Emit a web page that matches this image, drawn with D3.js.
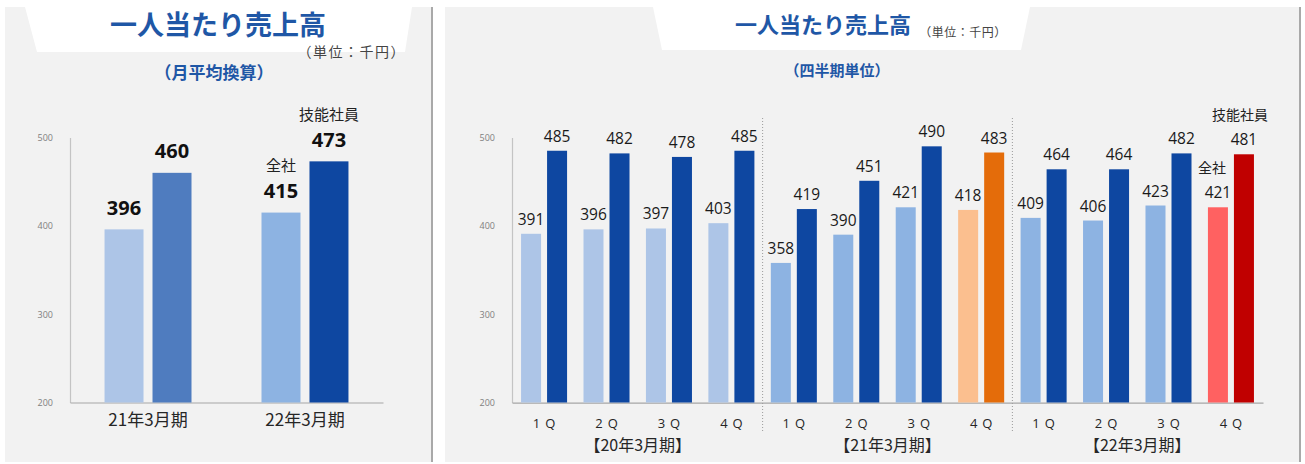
<!DOCTYPE html>
<html lang="ja">
<head>
<meta charset="utf-8">
<script src="https://cdn.jsdelivr.net/npm/d3@7"></script>
<style>
  html, body { margin: 0; padding: 0; background: #ffffff; }
  svg { display: block; }
  .jp { font-family: "Noto Sans CJK JP", "Noto Sans", sans-serif; }
  .num { font-family: "Open Sans", "Noto Sans", sans-serif; }
</style>
</head>
<body>
<svg id="chart" width="1305" height="464"></svg>
<script>
// ---- data ----
const yTicks = [200, 300, 400, 500];

// monthly average, per fiscal year
const annualPeriods = ["21年3月期", "22年3月期"];
const annualAllStaff = [396, 415];
const annualSkilled = [460, 473];

// quarterly figures
const fiscalYears = ["【20年3月期】", "【21年3月期】", "【22年3月期】"];
const quarterNames = ["1Q", "2Q", "3Q", "4Q"];
const quarterAllStaff = [391, 396, 397, 403, 358, 390, 421, 418, 409, 406, 423, 421];
const quarterSkilled = [485, 482, 478, 485, 419, 451, 490, 483, 464, 464, 482, 481];

const titleText = "一人当たり売上高";
const unitText = "（単位：千円）";
const seriesNames = ["全社", "技能社員"];

// ---- drawing ----
const svg = d3.select("#chart");
const TITLE_BLUE = "#1f57a6";
const DARK_BLUE = "#0e47a1";

// panel backgrounds
function panel(x, y, w, h, header) {
  svg.append("rect").attr("x", x).attr("y", y).attr("width", w).attr("height", h).attr("fill", "#f2f2f2");
  svg.append("rect").attr("x", x + w - 1).attr("y", y).attr("width", 2).attr("height", h).attr("fill", "#a9a9a9");
  svg.append("polygon").attr("points", header.map(p => p.join(",")).join(" ")).attr("fill", "#ffffff");
}
panel(5, 7, 427, 455, [[25, 7], [412, 7], [405, 52], [37, 52]]);
panel(445, 7, 855, 455, [[653, 7], [1030, 7], [1021, 50], [662, 50]]);

// titles
svg.append("text").attr("class", "jp").attr("x", 218).attr("y", 35)
  .attr("text-anchor", "middle").attr("font-size", 27).attr("font-weight", 700)
  .attr("fill", TITLE_BLUE).text(titleText);
svg.append("text").attr("class", "jp").attr("x", 406).attr("y", 57)
  .attr("text-anchor", "end").attr("font-size", 14).attr("letter-spacing", 1.5)
  .attr("fill", "#444").text(unitText);
svg.append("text").attr("class", "jp").attr("x", 214).attr("y", 79)
  .attr("text-anchor", "middle").attr("font-size", 17).attr("font-weight", 700)
  .attr("fill", TITLE_BLUE).text("（月平均換算）");

svg.append("text").attr("class", "jp").attr("x", 823).attr("y", 33)
  .attr("text-anchor", "middle").attr("font-size", 22).attr("font-weight", 700)
  .attr("fill", TITLE_BLUE).text(titleText);
svg.append("text").attr("class", "jp").attr("x", 963).attr("y", 37)
  .attr("text-anchor", "middle").attr("font-size", 12).attr("letter-spacing", 0.5)
  .attr("fill", "#444").text(unitText);
svg.append("text").attr("class", "jp").attr("x", 837).attr("y", 76)
  .attr("text-anchor", "middle").attr("font-size", 15).attr("font-weight", 700)
  .attr("fill", TITLE_BLUE).text("（四半期単位）");

// shared value scale
const y = d3.scaleLinear().domain([200, 500]).range([402.5, 137.5]);

function valueAxis(x0) {
  const g = svg.append("g").attr("transform", `translate(${x0},0)`)
    .call(d3.axisLeft(y).tickValues(yTicks).tickSize(0).tickPadding(17).tickFormat(d3.format("d")));
  g.select(".domain").attr("stroke", "#c4c4c4").attr("stroke-width", 1.2);
  g.selectAll("text").attr("class", "num").attr("font-size", 9).attr("fill", "#808080");
}

// ---------- left: annual chart ----------
const xA = d3.scaleBand().domain(annualPeriods).range([70, 383])
  .paddingInner(0.446).paddingOuter(0.22);
const xAi = d3.scaleBand().domain([0, 1]).range([0, xA.bandwidth()]).paddingInner(0.1875);
const annualColors = [["#adc5e7", "#4f7cbf"], ["#8db3e2", DARK_BLUE]];

valueAxis(70);
const gA = svg.append("g").attr("transform", "translate(0,402.5)")
  .call(d3.axisBottom(xA).tickSize(0).tickSizeOuter(0).tickPadding(11));
gA.select(".domain").attr("stroke", "#a6a6a6").attr("stroke-width", 1.2);
gA.selectAll("text").attr("class", "jp").attr("font-size", 17).attr("fill", "#262626");

annualPeriods.forEach((p, i) => {
  [annualAllStaff[i], annualSkilled[i]].forEach((v, s) => {
    const bx = xA(p) + xAi(s);
    svg.append("rect").attr("x", bx).attr("y", y(v))
      .attr("width", xAi.bandwidth()).attr("height", y(200) - y(v))
      .attr("fill", annualColors[i][s]);
    svg.append("text").attr("class", "num").attr("x", bx + xAi.bandwidth() / 2)
      .attr("y", y(v) - 14.5).attr("text-anchor", "middle")
      .attr("font-size", 20).attr("font-weight", 700).attr("fill", "#111").text(v);
    if (i === annualPeriods.length - 1) {
      svg.append("text").attr("class", "jp").attr("x", bx + xAi.bandwidth() / 2)
        .attr("y", y(v) - 14.5 - 27).attr("text-anchor", "middle")
        .attr("font-size", 15).attr("fill", "#222").text(seriesNames[s]);
    }
  });
});

// ---------- right: quarterly chart ----------
const qKeys = d3.range(quarterAllStaff.length);
const xQ = d3.scaleBand().domain(qKeys).range([512, 1263])
  .paddingInner(0.263).paddingOuter(0.145);
const xQi = d3.scaleBand().domain([0, 1]).range([0, xQ.bandwidth()]).paddingInner(0.2308);

function quarterColor(k, s) {
  const yr = Math.floor(k / 4), q = k % 4;
  if (yr === 1 && q === 3) return s ? "#e46c0a" : "#fbbf8f";
  if (yr === 2 && q === 3) return s ? "#c00000" : "#ff6161";
  if (s) return DARK_BLUE;
  return yr === 0 ? "#adc5e7" : "#8db3e2";
}

valueAxis(512);
const gQ = svg.append("g").attr("transform", "translate(0,402.7)")
  .call(d3.axisBottom(xQ).tickSize(0).tickSizeOuter(0).tickPadding(16)
    .tickFormat(k => quarterNames[k % 4]));
gQ.select(".domain").attr("stroke", "#a6a6a6").attr("stroke-width", 1.2);
gQ.selectAll("text").attr("class", "num").attr("font-size", 13).attr("fill", "#262626")
  .attr("letter-spacing", 5).attr("dx", 2.5);

// year separators and year labels
const step = xQ.step();
fiscalYears.forEach((fy, yi) => {
  const first = xQ(yi * 4), last = xQ(yi * 4 + 3) + xQ.bandwidth();
  svg.append("text").attr("class", "jp").attr("x", (first + last) / 2).attr("y", 451)
    .attr("text-anchor", "middle").attr("font-size", 16).attr("fill", "#262626").text(fy);
  if (yi < fiscalYears.length - 1) {
    const sx = last + (step - xQ.bandwidth()) / 2;
    svg.append("line").attr("x1", sx).attr("x2", sx).attr("y1", 118).attr("y2", 433)
      .attr("stroke", "#9a9a9a").attr("stroke-width", 1).attr("stroke-dasharray", "1,2");
  }
});

qKeys.forEach(k => {
  [quarterAllStaff[k], quarterSkilled[k]].forEach((v, s) => {
    const bx = xQ(k) + xQi(s);
    svg.append("rect").attr("x", bx).attr("y", y(v))
      .attr("width", xQi.bandwidth()).attr("height", y(200) - y(v))
      .attr("fill", quarterColor(k, s));
    svg.append("text").attr("class", "num").attr("x", bx + xQi.bandwidth() / 2)
      .attr("y", y(v) - 9).attr("text-anchor", "middle")
      .attr("font-size", 15.5).attr("fill", "#1a1a1a").text(v);
    if (k === qKeys.length - 1) {
      svg.append("text").attr("class", "jp").attr("x", bx + xQi.bandwidth() / 2 - (s ? 4 : 6))
        .attr("y", y(v) - 9 - 25).attr("text-anchor", "middle")
        .attr("font-size", 14).attr("fill", "#222").text(seriesNames[s]);
    }
  });
});
</script>
</body>
</html>
